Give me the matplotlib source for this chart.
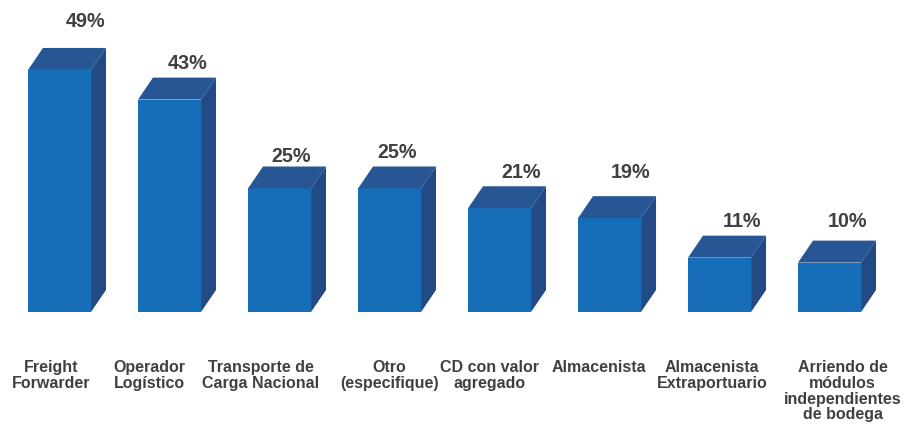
import matplotlib.pyplot as plt
from matplotlib.patches import Polygon

categories = ["Freight\nForwarder", "Operador\nLogístico", "Transporte de\nCarga Nacional",
              "Otro\n(especifique)", "CD con valor\nagregado", "Almacenista",
              "Almacenista\nExtraportuario", "Arriendo de\nmódulos\nindependientes\nde bodega"]
values = [49, 43, 25, 25, 21, 19, 11, 10]
labels = ["49%", "43%", "25%", "25%", "21%", "19%", "11%", "10%"]

front_col = "#156EB7"
top_col = "#265794"
side_col = "#234A84"
text_col = "#404040"

# labels in the original were placed by hand, so each one gets its own nudge
label_shift = [-0.08, -0.18, -0.17, 0.0, -0.09, -0.10, -0.07, 0.12]
pct_dx = [0.236, 0.164, 0.109, 0.068, 0.20, 0.191, 0.20, 0.159]
pct_dy = [4.51, 2.02, 1.11, 1.92, 1.82, 3.85, 2.02, 3.04]

plt.rcParams['font.family'] = ['Liberation Sans', 'DejaVu Sans']

fig = plt.figure(figsize=(9.17, 4.31), dpi=100)
ax = fig.add_axes([0, 0, 1, 1])
ax.set_xlim(-0.541, 7.795)
ax.set_ylim(-23.89, 63.36)
ax.axis("off")

w = 0.573      # front face width (bar units)
dx = 0.136     # depth offset in x
dy = 4.45      # depth offset in y

for i, v in enumerate(values):
    x0 = i - w / 2
    x1 = i + w / 2
    # front
    ax.add_patch(Polygon([(x0, 0), (x1, 0), (x1, v), (x0, v)], closed=True,
                         facecolor=front_col, edgecolor="none"))
    # top
    ax.add_patch(Polygon([(x0, v), (x1, v), (x1 + dx, v + dy), (x0 + dx, v + dy)], closed=True,
                         facecolor=top_col, edgecolor="none"))
    # side
    ax.add_patch(Polygon([(x1, 0), (x1 + dx, dy), (x1 + dx, v + dy), (x1, v)], closed=True,
                         facecolor=side_col, edgecolor="none"))
    ax.text(i + pct_dx[i], v + dy + pct_dy[i], labels[i], ha="center", va="baseline",
            fontsize=14.2, fontweight="bold", color=text_col)
    ax.text(i + label_shift[i], -9.6, categories[i], ha="center", va="top", fontsize=11.5,
            fontweight="bold", color=text_col, linespacing=1.05)

fig.savefig("out.png", dpi=100)
